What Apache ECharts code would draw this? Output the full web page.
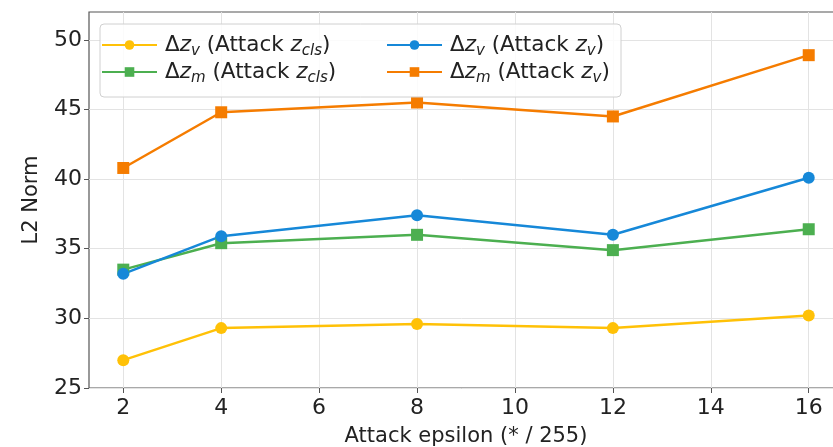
<!DOCTYPE html>
<html>
<head>
<meta charset="utf-8">
<script src="https://cdn.jsdelivr.net/npm/echarts@6/dist/echarts.min.js"></script>
<style>
  html, body { margin: 0; padding: 0; background: #fff; }
  #chart { width: 833px; height: 447px; }
</style>
</head>
<body>
<div id="chart"></div>
<script>
// data
var epsilons = [2, 4, 8, 12, 16];
var xTicks = [2, 4, 6, 8, 10, 12, 14, 16];
var yTicks = [25, 30, 35, 40, 45, 50];
var dzvAttackCls = [27.0, 29.3, 29.6, 29.3, 30.2];
var dzmAttackCls = [33.5, 35.4, 36.0, 34.9, 36.4];
var dzvAttackV = [33.2, 35.9, 37.4, 36.0, 40.1];
var dzmAttackV = [40.8, 44.8, 45.5, 44.5, 48.9];

var fontFam = 'DejaVu Sans';

function pairs(vals) {
    return epsilons.map(function (x, i) { return [x, vals[i]]; });
}

// legend labels with math-ish subscripts
var labels = {
    'dzv_cls': '{n|Δ}{i|z}{s|v}{n| (Attack }{i|z}{s|cls}{n|)}',
    'dzm_cls': '{n|Δ}{i|z}{s|m}{n| (Attack }{i|z}{s|cls}{n|)}',
    'dzv_v':   '{n|Δ}{i|z}{s|v}{n| (Attack }{i|z}{s|v}{n|)}',
    'dzm_v':   '{n|Δ}{i|z}{s|m}{n| (Attack }{i|z}{s|v}{n|)}'
};

var richStyle = {
    n: { fontSize: 21.5, fontFamily: fontFam, color: '#222', lineHeight: 28 },
    i: { fontSize: 21.5, fontFamily: fontFam, fontStyle: 'italic', color: '#222', lineHeight: 28 },
    s: { fontSize: 15, fontFamily: fontFam, fontStyle: 'italic', color: '#222', verticalAlign: 'bottom', lineHeight: 16 }
};

function mkSeries(name, vals, color, symbol) {
    return {
        name: name,
        type: 'line',
        data: pairs(vals),
        symbol: symbol,
        symbolSize: 12,
        showAllSymbol: true,
        lineStyle: { color: color, width: 2.5 },
        itemStyle: { color: color },
        emphasis: { disabled: true },
        z: 3
    };
}

var legendBase = {
    orient: 'vertical',
    itemWidth: 55,
    itemHeight: 12,
    itemGap: 2,
    formatter: function (name) { return labels[name]; },
    textStyle: { rich: richStyle, padding: [0, 0, 0, 3] }
};

var myChart = echarts.init(document.getElementById('chart'), null, { renderer: 'canvas' });
var option = {
    backgroundColor: '#fff',
    animation: false,
    grid: {
        left: 89, top: 12, bottom: 59, right: -10,
        outerBoundsMode: 'none',
        containLabel: false,
        show: true, borderColor: '#555', borderWidth: 1.2, backgroundColor: 'transparent'
    },
    graphic: [{
        type: 'rect',
        shape: { x: 100, y: 24, width: 521, height: 73, r: 4 },
        style: { fill: 'rgba(255,255,255,0.85)', stroke: '#d0d0d0', lineWidth: 1 },
        z: 10
    }],
    legend: [
        Object.assign({ left: 96, top: 29, data: ['dzv_cls', 'dzm_cls'], z: 20 }, legendBase),
        Object.assign({ left: 381, top: 29, data: ['dzv_v', 'dzm_v'], z: 20 }, legendBase)
    ],
    xAxis: {
        type: 'value',
        min: 1.3,
        max: 16.7,
        name: 'Attack epsilon (* / 255)',
        nameLocation: 'middle',
        nameGap: 38,
        nameTextStyle: { fontSize: 21, fontFamily: fontFam, color: '#222' },
        axisLine: { show: false },
        axisTick: { show: true, length: 5, customValues: xTicks, lineStyle: { color: '#555' } },
        axisLabel: { fontSize: 22, fontFamily: fontFam, color: '#222', margin: 9, customValues: xTicks },
        splitLine: { show: true, customValues: xTicks, lineStyle: { color: '#e3e3e3', width: 1 } }
    },
    yAxis: {
        type: 'value',
        min: 25,
        max: 52,
        name: 'L2 Norm',
        nameLocation: 'middle',
        nameGap: 47,
        nameTextStyle: { fontSize: 21, fontFamily: fontFam, color: '#222' },
        axisLine: { show: false },
        axisTick: { show: true, length: 5, customValues: yTicks, lineStyle: { color: '#555' } },
        axisLabel: { fontSize: 22, fontFamily: fontFam, color: '#222', margin: 7, customValues: yTicks },
        splitLine: { show: true, customValues: yTicks, lineStyle: { color: '#e3e3e3', width: 1 } }
    },
    series: [
        mkSeries('dzv_cls', dzvAttackCls, '#FFC107', 'circle'),
        mkSeries('dzm_cls', dzmAttackCls, '#4CAF50', 'rect'),
        mkSeries('dzv_v', dzvAttackV, '#1688D8', 'circle'),
        mkSeries('dzm_v', dzmAttackV, '#F57C00', 'rect')
    ]
};
myChart.setOption(option);
</script>
</body>
</html>
